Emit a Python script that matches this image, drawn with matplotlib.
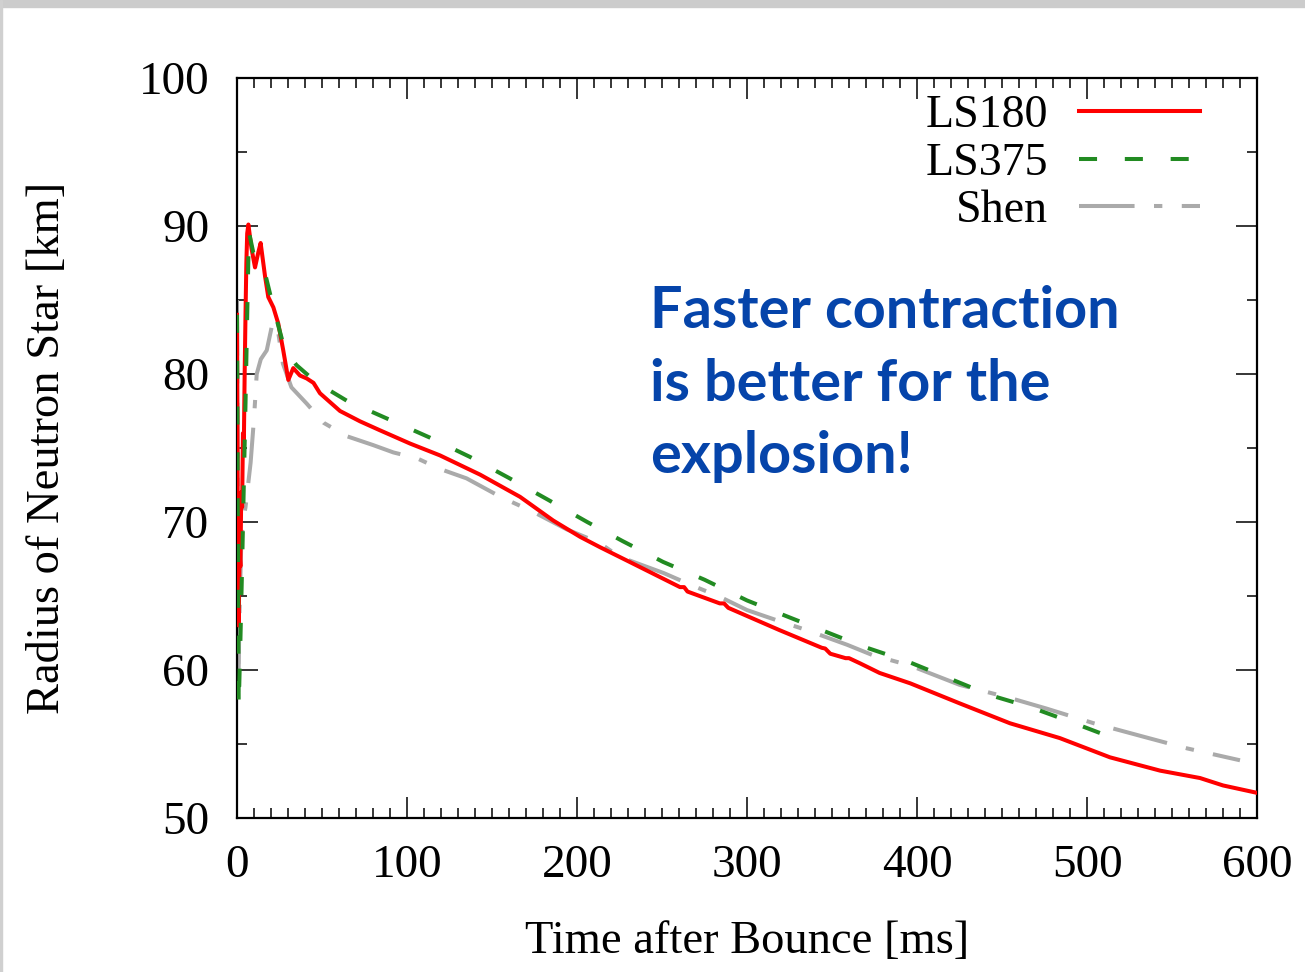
import matplotlib
matplotlib.use('Agg')
import matplotlib.pyplot as plt
from matplotlib.patches import Rectangle
from matplotlib.ticker import MultipleLocator

plt.rcParams['font.family'] = ['Liberation Serif', 'DejaVu Serif']
plt.rcParams['lines.scale_dashes'] = False

# LS180
t_ls180 = [0, 0.3, 0.6, 1.0, 1.5, 2.0, 2.5, 3.0, 3.5, 4.0, 4.5, 5.0, 5.5, 6.0, 6.7,
           8.5, 10.6, 12.5, 13.9, 16.5, 18.4, 21.4, 24.3, 27.2, 30.2, 33.1, 37, 41, 45,
           48.8, 54.7, 60.6, 72.4, 84, 101.8, 119.4, 143, 166.5, 186, 201.8, 213.5, 231,
           260.6, 263, 265, 284, 286.5, 289, 319, 344, 346, 349, 358, 360, 366.5, 378,
           396, 425, 454.7, 484, 513.5, 543, 566.5, 580, 600]
r_ls180 = [84, 76, 64, 63, 68, 67, 72, 71, 76, 75, 80, 84, 87.5, 89.5, 90.1,
           88.5, 87.2, 88.2, 88.85, 86.6, 85.2, 84.5, 83.4, 81.6, 79.6, 80.4, 79.9, 79.7, 79.4,
           78.7, 78.1, 77.5, 76.8, 76.2, 75.3, 74.5, 73.2, 71.7, 70.1, 69.0, 68.3, 67.3,
           65.6, 65.6, 65.3, 64.5, 64.5, 64.2, 62.7, 61.5, 61.45, 61.1, 60.8, 60.8, 60.45, 59.8,
           59.1, 57.75, 56.4, 55.4, 54.1, 53.2, 52.7, 52.2, 51.7]

# LS375
t_ls375 = [0, 0.5, 1, 2, 3, 4, 5, 6, 7, 9.6, 12, 16.5, 21.4, 28.2, 35, 42, 50, 64.5, 90,
           113.5, 137, 159.6, 183, 206, 227, 250.7, 275, 300, 324, 346, 368, 394, 417.5,
           443, 466.5, 488, 508.6]
r_ls375 = [84, 70, 57.5, 62, 67, 72.5, 78, 84, 89.6, 88.2, 87.8, 86.8, 84.5, 81.6, 80.6,
           79.9, 79.2, 78.2, 76.9, 75.7, 74.4, 73.0, 71.5, 70.0, 68.7, 67.3, 66.1, 64.7,
           63.6, 62.6, 61.6, 60.6, 59.5, 58.3, 57.5, 56.6, 55.7]

# Shen
t_shen = [0, 0.3, 0.7, 1.5, 2.5, 3.5, 5, 6.5, 8, 10, 11.6, 14, 17.5, 21, 24, 27, 32, 41,
          51, 64.5, 80, 92, 106, 119, 135, 155, 174, 194, 213, 225, 251, 268, 284, 300,
          319, 335, 359, 374, 396, 425, 455, 476, 504, 533, 559, 590]
r_shen = [85, 72, 58, 64, 68.5, 70, 71, 72.5, 74, 77, 80, 81, 81.6, 83.5, 83, 80.7, 79.1,
          78.0, 76.7, 75.8, 75.2, 74.7, 74.3, 73.6, 72.95, 71.7, 70.7, 69.5, 68.6, 67.65,
          66.55, 65.7, 64.95, 64.05, 63.3, 62.7, 61.7, 61.0, 60.3, 59.0, 58.1, 57.4, 56.4,
          55.5, 54.7, 53.9]

fig = plt.figure(figsize=(13.05, 9.72), dpi=100)
fig.patches.append(Rectangle((0, 1 - 7 / 972), 1, 7 / 972, transform=fig.transFigure,
                             color='#cccccc', zorder=0))
fig.patches.append(Rectangle((0, 0), 2 / 1305, 1, transform=fig.transFigure,
                             color='#d0d0d0', zorder=0))

ax = fig.add_axes([237 / 1305, 154 / 972, 1020 / 1305, 740 / 972])

ax.plot(t_ls180, r_ls180, color='#ff0000', lw=2.9, label='LS180', zorder=3)
ax.plot(t_ls375, r_ls375, color='#228b22', lw=2.9, dashes=(13, 20), label='LS375', zorder=4)
ax.plot(t_shen, r_shen, color='#aaaaaa', lw=2.9, dashes=(40, 14, 6, 14), label='Shen', zorder=2)

ax.set_xlim(0, 600)
ax.set_ylim(50, 100)
ax.xaxis.set_major_locator(MultipleLocator(100))
ax.xaxis.set_minor_locator(MultipleLocator(10))
ax.yaxis.set_major_locator(MultipleLocator(10))
ax.yaxis.set_minor_locator(MultipleLocator(5))
ax.tick_params(which='both', direction='in', top=True, right=True, width=1.1, labelsize=34)
ax.tick_params(which='major', length=15)
ax.tick_params(which='minor', length=7.5)
ax.tick_params(axis='x', pad=19)
ax.tick_params(axis='y', pad=20)
for s in ax.spines.values():
    s.set_linewidth(1.6)

ax.set_xlabel('Time after Bounce [ms]', fontsize=33.5, labelpad=24)
ax.set_ylabel('Radius of Neutron Star [km]', fontsize=33.5, labelpad=50)

ax.legend(loc='upper right', frameon=False, markerfirst=False, fontsize=33,
          handlelength=2.65, handletextpad=0.68, labelspacing=0.1,
          borderaxespad=0.1, bbox_to_anchor=(0.967, 1.008))

ax.text(0.405, 0.72, 'Faster contraction\nis better for the\nexplosion!',
        transform=ax.transAxes, fontsize=41.5, fontweight='bold', family='Lato',
        color='#0544aa', va='top', ha='left', linespacing=1.45)

fig.savefig('out.png', dpi=100)
